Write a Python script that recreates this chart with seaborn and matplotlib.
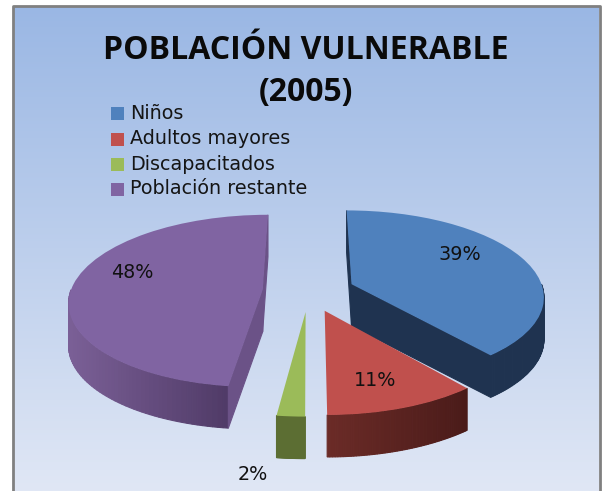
import numpy as np
import matplotlib
matplotlib.use("Agg")
import matplotlib.pyplot as plt
from matplotlib.patches import Rectangle
from matplotlib.transforms import Transform
import seaborn as sns

categories = ['Niños', 'Adultos mayores', 'Discapacitados', 'Población restante']
values = [39, 11, 2, 48]
pct_labels = ['39%', '11%', '2%', '48%']
colors = ['#4f81bd', '#c0504d', '#9bbb59', '#8064a2']

# side wall colours, left end and right end of each slice
side_left = ['#1f3350', '#6b2b27', '#5c6e33', '#7a5f96']
side_right = ['#1f3350', '#4a1b19', '#5c6e33', '#4f3a66']

sns.set_theme(style='white')
plt.rcParams['font.family'] = ['DejaVu Sans']

W, H = 602, 491
CX, CY = 308.6, 291
RX, RY, PERSP = 192, 85, 0.13
DEPTH = 42


class TiltedPie(Transform):
    # flat pie coordinates -> pixels, far side smaller than near side
    input_dims = output_dims = 2

    def transform_non_affine(self, xy):
        xy = np.asarray(xy, dtype=float)
        s = 1 / (1 + PERSP * xy[:, 1])
        return np.column_stack([CX + RX * xy[:, 0] * s, CY - RY * xy[:, 1] * s])


tilt = TiltedPie()

fig = plt.figure(figsize=(W / 100, H / 100), dpi=100)
ax = fig.add_axes([0, 0, 1, 1])

wedges, _, autotexts = ax.pie(values, explode=[0.24] * 4, startangle=90, counterclock=False,
                              colors=sns.color_palette(colors), autopct='%1.0f%%',
                              wedgeprops={'linewidth': 0})
ax.set_aspect('auto')
ax.axis('off')

# background
grad = np.linspace(0, 1, 256)[:, None, None]
top = np.array([154, 183, 228]) / 255
bottom = np.array([224, 231, 245]) / 255
ax.imshow(top + (bottom - top) * grad, extent=[13, 599, H, 6], aspect='auto', zorder=0)
ax.set_xlim(0, W)
ax.set_ylim(H, 0)
ax.plot([13, 13, 599.5, 599.5], [H, 6, 6, H], color='#808080', lw=2, zorder=1)


def rim(w, t1, t2, n=60):
    t = np.radians(np.linspace(t1, t2, n))
    cx, cy = w.center
    return tilt.transform(np.column_stack([cx + np.cos(t), cy + np.sin(t)]))


def mix(a, b, f):
    a, b = np.array(matplotlib.colors.to_rgb(a)), np.array(matplotlib.colors.to_rgb(b))
    return a + (b - a) * f


def drop_face(pts, color, z):
    # quad strip from the top edge down to the bottom of the pie
    x = np.r_[pts[:, 0], pts[::-1, 0]]
    y = np.r_[pts[:, 1], pts[::-1, 1] + DEPTH]
    ax.fill(x, y, color=color, lw=0.8, zorder=z)


for i, w in enumerate(wedges):
    apex = tilt.transform(np.array([w.center]))[0]
    t1, t2 = w.theta1, w.theta2
    # only the part of the rim facing the viewer has a wall
    vis1, vis2 = max(t1, -180), min(t2, 0)
    if vis2 > vis1:
        pts = rim(w, vis1, vis2)
        for j in range(len(pts) - 1):
            f = (pts[j, 0] - pts[0, 0]) / max(pts[-1, 0] - pts[0, 0], 1)
            drop_face(pts[j:j + 2], mix(side_left[i], side_right[i], f), 2)
    # cut faces
    if i == 0:
        start = rim(w, t2, t2, 1)[0]
        end = rim(w, t1, t1, 1)[0]
        drop_face(np.array([start, apex]), side_left[i], 2)
        drop_face(np.array([apex, end]), side_left[i], 2)
    if i == 3:
        start = rim(w, t1, t1, 1)[0]
        end = rim(w, t2, t2, 1)[0]
        drop_face(np.array([start, apex]), '#6b5287', 2)
        drop_face(np.array([apex, end]), '#6b5287', 2)
    w.set_transform(tilt + ax.transData)
    w.set_zorder(3)

# percent labels
label_pos = [(460, 255), (375, 381), (253, 475), (132, 272)]
for txt, pct, pos in zip(autotexts, pct_labels, label_pos):
    txt.set_text(pct)
    txt.set_position(pos)
    txt.set_fontsize(13.8)
    txt.set_color('#111111')
    txt.set_ha('center')
    txt.set_va('center')
    txt.set_zorder(5)

# title
ax.text(306, 50, 'POBLACIÓN VULNERABLE', family='Open Sans', weight='bold', fontsize=23,
        ha='center', va='center', color='#0a0a0a', zorder=5)
ax.text(306, 92, '(2005)', family='Open Sans', weight='bold', fontsize=23,
        ha='center', va='center', color='#0a0a0a', zorder=5)

# legend
leg_y = [113, 139, 164, 189]
for name, c, y in zip(categories, colors, leg_y):
    ax.add_patch(Rectangle((111, y - 6.5), 13, 13, color=c, lw=0, zorder=5))
    ax.text(130, y, name, fontsize=13.8, ha='left', va='center', color='#151515', zorder=5)

fig.savefig('out.png', dpi=100)
